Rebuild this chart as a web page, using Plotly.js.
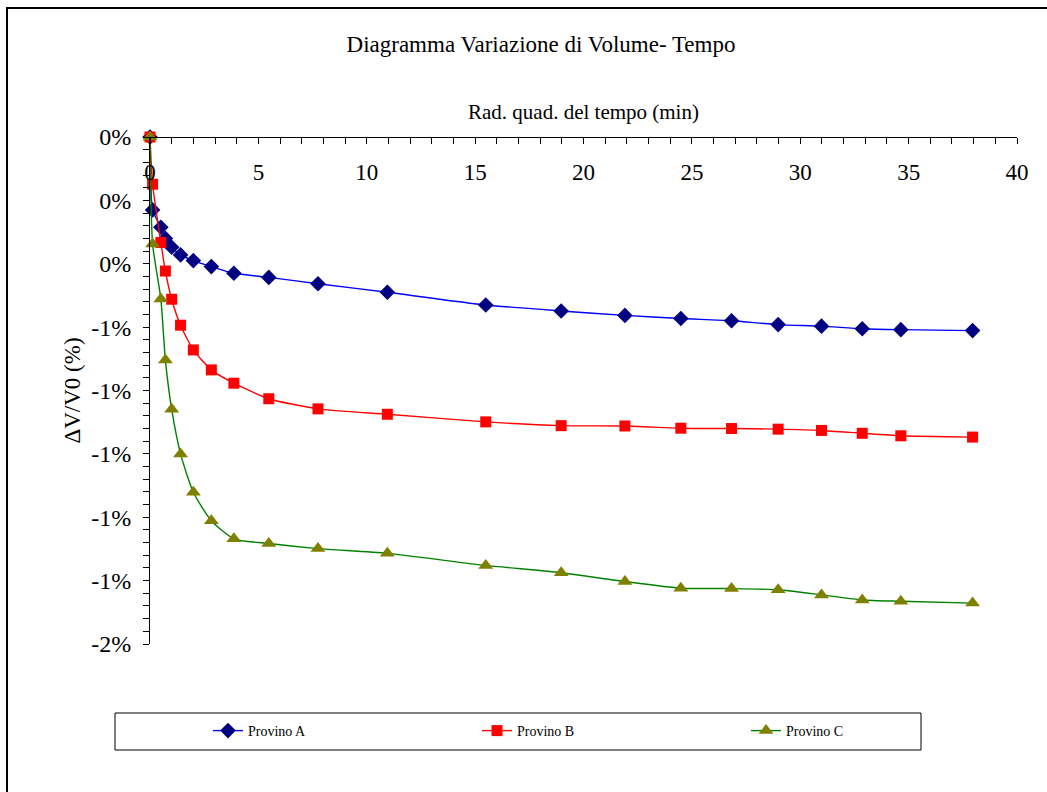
<!DOCTYPE html>
<html>
<head>
<meta charset="utf-8">
<script src="https://cdn.plot.ly/plotly-3.0.1.min.js"></script>
<style>
  html, body { margin: 0; padding: 0; background: #fff; overflow: hidden; }
  #chart { width: 1047px; height: 792px; position: absolute; left: 0; top: 0; }
  #frame { position: absolute; left: 6px; top: 7px; width: 1200px; height: 900px;
           border-left: 2px solid #000; border-top: 2px solid #000; pointer-events: none; }
</style>
</head>
<body>
<div id="chart"></div>
<div id="frame"></div>
<script>
// Square root of time (min)
const sqrtTime = [0, 0.12, 0.5, 0.71, 1, 1.41, 2, 2.83, 3.87, 5.48, 7.75, 10.95, 15.49, 18.97, 21.91, 24.49, 26.83, 28.98, 30.98, 32.86, 34.64, 37.95];
// ΔV/V0 in percent
const provinoA = [0, -0.230, -0.285, -0.320, -0.348, -0.372, -0.390, -0.409, -0.430, -0.443, -0.463, -0.490, -0.530, -0.549, -0.563, -0.573, -0.580, -0.592, -0.597, -0.605, -0.608, -0.611];
const provinoB = [0, -0.149, -0.333, -0.423, -0.512, -0.594, -0.672, -0.735, -0.777, -0.826, -0.858, -0.875, -0.899, -0.911, -0.912, -0.919, -0.920, -0.922, -0.926, -0.935, -0.943, -0.947];
const provinoC = [0, -0.338, -0.511, -0.704, -0.859, -1.000, -1.121, -1.211, -1.268, -1.283, -1.299, -1.314, -1.352, -1.375, -1.403, -1.424, -1.425, -1.429, -1.445, -1.461, -1.465, -1.471];
const seriesNames = ['Provino A', 'Provino B', 'Provino C'];
const yTickVals = [0, -0.2, -0.4, -0.6, -0.8, -1.0, -1.2, -1.4, -1.6];
const yTickText = ['0%', '0%', '0%', '-1%', '-1%', '-1%', '-1%', '-1%', '-2%'];
const xTitle = 'Rad. quad. del tempo (min)';

const FONT = '"Liberation Serif", "Times New Roman", Times, serif';

const traces = [
  {x: sqrtTime, y: provinoA, name: seriesNames[0], type: 'scatter', mode: 'lines+markers',
   line: {color: '#0000FF', width: 1.4, shape: 'spline', smoothing: 0.6},
   marker: {symbol: 'diamond', color: '#000080', size: 12}, cliponaxis: false},
  {x: sqrtTime, y: provinoB, name: seriesNames[1], type: 'scatter', mode: 'lines+markers',
   line: {color: '#FF0000', width: 1.4, shape: 'spline', smoothing: 0.6},
   marker: {symbol: 'square', color: '#FF0000', size: 11}, cliponaxis: false},
  {x: sqrtTime, y: provinoC, name: seriesNames[2], type: 'scatter', mode: 'lines+markers',
   line: {color: '#008000', width: 1.4, shape: 'spline', smoothing: 0.6},
   marker: {symbol: 'triangle-up', color: '#808000', size: 13}, cliponaxis: false}
];

const L = 150, R = 1017, T = 137, B = 644;
const W = R - L, H = B - T;
const px = v => (v - L) / W;
const py = v => (B - v) / H;

const layout = {
  width: 1047, height: 792,
  margin: {l: L, r: 1047 - R, t: T, b: 792 - B},
  paper_bgcolor: '#fff', plot_bgcolor: '#fff',
  font: {family: FONT, color: '#000'},
  showlegend: true,
  title: {text: 'Diagramma Variazione di Volume- Tempo', font: {family: FONT, size: 23, color: '#000'},
          x: 541 / 1047, xref: 'container', xanchor: 'center', y: 1 - 44 / 792, yref: 'container', yanchor: 'middle'},
  xaxis: {
    range: [0, 40], anchor: 'free', position: 1, side: 'bottom',
    tickmode: 'linear', tick0: 0, dtick: 5,
    ticks: 'outside', ticklen: 6, tickcolor: '#000', tickwidth: 1, ticklabelstandoff: 8,
    minor: {dtick: 1, tick0: 0, ticks: 'outside', ticklen: 6, tickcolor: '#000', showgrid: false},
    showline: true, linecolor: '#000', linewidth: 1, showgrid: false, zeroline: false,
    tickfont: {family: FONT, size: 23, color: '#000'}
  },
  yaxis: {
    range: [-1.6, 0], tickmode: 'array', tickvals: yTickVals, ticktext: yTickText,
    ticks: 'outside', ticklen: 6, tickcolor: '#000', tickwidth: 1, ticklabelstandoff: 7,
    minor: {tickmode: 'linear', tick0: 0, dtick: 0.04, ticks: 'outside', ticklen: 6, tickcolor: '#000', showgrid: false},
    showline: true, linecolor: '#000', linewidth: 1, showgrid: false, zeroline: false,
    tickfont: {family: FONT, size: 24, color: '#000'},
    title: {text: 'ΔV/V0 (%)', font: {family: FONT, size: 23, color: '#000'}, standoff: 4}
  },
  annotations: [
    {text: xTitle, xref: 'paper', yref: 'paper', x: 0.5, y: py(112), xanchor: 'center', yanchor: 'middle',
     showarrow: false, font: {family: FONT, size: 21, color: '#000'}}
  ],
  legend: {
    orientation: 'h', x: px(208), xanchor: 'left', y: py(731), yanchor: 'middle',
    entrywidth: 224, entrywidthmode: 'pixels',
    font: {family: FONT, size: 14, color: '#000'}, bgcolor: 'rgba(0,0,0,0)', borderwidth: 0
  },
  shapes: [
    {type: 'rect', xref: 'paper', yref: 'paper', x0: px(115), x1: px(921), y0: py(750), y1: py(713),
     line: {color: '#000', width: 1}, fillcolor: 'rgba(0,0,0,0)'}
  ]
};

Plotly.newPlot('chart', traces, layout, {displayModeBar: false, staticPlot: true});
</script>
</body>
</html>
